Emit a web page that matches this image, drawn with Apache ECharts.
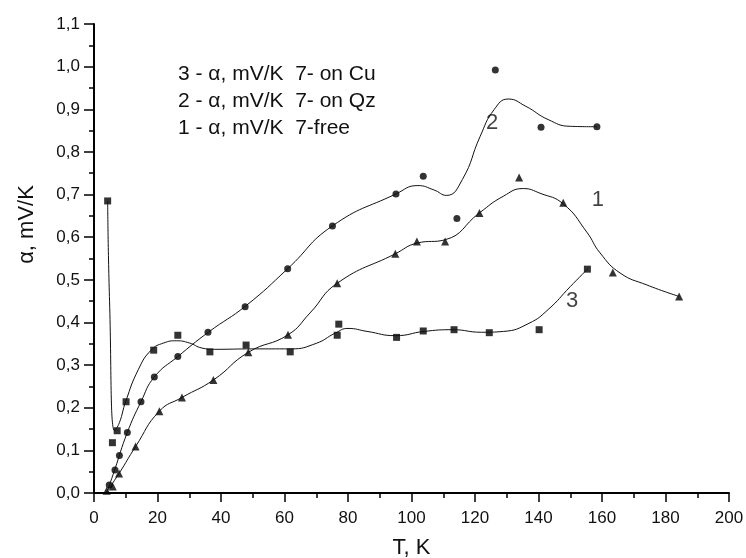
<!DOCTYPE html>
<html>
<head>
<meta charset="utf-8">
<script src="https://cdn.jsdelivr.net/npm/echarts@6/dist/echarts.min.js"></script>
<style>
  html, body { margin: 0; padding: 0; background: #fff; }
  #chart { width: 746px; height: 558px; }
</style>
</head>
<body>
<div id="chart"></div>
<script>
// measured points [T, alpha]
var freePts = [[4.0,0.005],[5.9,0.015],[7.9,0.046],[13.1,0.109],[20.6,0.192],[27.7,0.224],[37.6,0.265],[48.6,0.330],[61.1,0.371],[76.6,0.492],[94.9,0.561],[101.7,0.590],[110.6,0.590],[121.4,0.657],[133.9,0.740],[147.8,0.681],[163.4,0.517],[184.3,0.461]];
var qzPts = [[4.8,0.019],[6.6,0.054],[8.0,0.088],[10.5,0.142],[14.8,0.214],[19.0,0.272],[26.4,0.320],[35.9,0.377],[47.6,0.437],[61.0,0.526],[75.1,0.626],[95.1,0.701],[103.7,0.743],[114.3,0.644],[126.4,0.992],[140.8,0.858],[158.4,0.859]];
var cuPts = [[4.3,0.685],[5.8,0.118],[7.3,0.146],[10.1,0.214],[18.8,0.335],[26.4,0.370],[36.5,0.331],[47.9,0.347],[61.8,0.331],[76.6,0.370],[77.1,0.396],[95.3,0.365],[103.7,0.380],[113.4,0.383],[124.5,0.376],[140.2,0.383],[155.4,0.525]];

// fitted curves
var freeFit = [[3.7,0],[7.9,0.046],[13.1,0.109],[20.6,0.192],[27.7,0.224],[37.6,0.265],[48.6,0.330],[61.1,0.371],[68,0.422],[76.6,0.492],[94.9,0.561],[101.7,0.586],[110.6,0.594],[121.4,0.657],[128.9,0.696],[135.2,0.714],[140.5,0.703],[147.8,0.678],[155.2,0.612],[159.4,0.563],[165.7,0.516],[174.1,0.488],[184.3,0.461]];
var qzFit = [[4.0,0],[6.5,0.054],[10.5,0.142],[14.8,0.214],[19,0.272],[26.4,0.32],[36,0.377],[48,0.44],[61,0.526],[75,0.626],[95,0.701],[102,0.721],[107,0.711],[111,0.698],[116,0.735],[121.6,0.836],[126,0.899],[130.5,0.924],[136,0.907],[143,0.876],[150,0.860],[158.4,0.859]];
var cuFit = [[4.3,0.685],[4.9,0.45],[6.5,0.146],[8,0.165],[10,0.215],[14,0.29],[18,0.335],[22,0.352],[26,0.357],[30,0.352],[34,0.340],[38,0.337],[50,0.338],[62,0.338],[70,0.351],[76,0.375],[80,0.386],[86,0.379],[95,0.369],[104,0.379],[113,0.383],[122,0.377],[129,0.379],[137,0.398],[143,0.43],[150,0.484],[155.4,0.525]];

var legendLines = ['3 - \u03b1, mV/K  7- on Cu', '2 - \u03b1, mV/K  7- on Qz', '1 - \u03b1, mV/K  7-free'];
var curveTags = [['1', 158.7, 0.688], ['2', 125.4, 0.869], ['3', 150.6, 0.451]];

var font = 'Liberation Sans, Arial, sans-serif';
var chart = echarts.init(document.getElementById('chart'));

function fitLine(data) {
    return {
        type: 'line', data: data, smooth: 0.5, symbol: 'none', silent: true,
        lineStyle: { color: '#111', width: 1 }
    };
}
function dots(data, shape, size) {
    return { type: 'scatter', data: data, symbol: shape, symbolSize: size, itemStyle: { color: '#000' } };
}

var option = {
    backgroundColor: '#fff',
    animation: false,
    grid: { left: 94, top: 24, right: 17, bottom: 65, outerBoundsMode: 'none' },
    xAxis: {
        type: 'value', min: 0, max: 200, interval: 20,
        name: 'T, K', nameLocation: 'middle', nameGap: 44,
        nameTextStyle: { fontSize: 22, color: '#111', fontFamily: font },
        axisLine: { lineStyle: { color: '#000', width: 2 } },
        axisTick: { length: 9, lineStyle: { color: '#000', width: 1.5 } },
        minorTick: { show: true, splitNumber: 2, length: 5, lineStyle: { color: '#000', width: 1.5 } },
        axisLabel: { fontSize: 17, color: '#111', margin: 17, fontFamily: font },
        splitLine: { show: false }
    },
    yAxis: {
        type: 'value', min: 0, max: 1.1, interval: 0.1,
        name: '\u03b1, mV/K', nameLocation: 'middle', nameGap: 56,
        nameTextStyle: { fontSize: 22, color: '#111', fontFamily: font, padding: [0, 0, 0, 68] },
        axisLine: { lineStyle: { color: '#000', width: 2 } },
        axisTick: { length: 10, lineStyle: { color: '#000', width: 1.5 } },
        minorTick: { show: true, splitNumber: 2, length: 5, lineStyle: { color: '#000', width: 1.5 } },
        axisLabel: {
            fontSize: 17, color: '#111', margin: 14, fontFamily: font,
            formatter: function (v) { return v.toFixed(1).replace('.', ','); }
        },
        splitLine: { show: false }
    },
    graphic: legendLines.map(function (t, i) {
        return {
            type: 'text', left: 178, top: 64 + i * 27,
            style: { text: t, fontSize: 21, fill: '#111', fontFamily: font }
        };
    }),
    series: [
        fitLine(freeFit),
        fitLine(qzFit),
        fitLine(cuFit),
        dots(freePts, 'triangle', 8),
        dots(qzPts, 'circle', 7),
        dots(cuPts, 'rect', 7),
        {
            type: 'scatter', silent: true, symbol: 'circle', symbolSize: 2,
            itemStyle: { color: 'rgba(0,0,0,0)' },
            data: curveTags.map(function (t) { return { name: t[0], value: [t[1], t[2]] }; }),
            label: {
                show: true, position: 'inside', formatter: '{b}',
                color: '#111', fontSize: 22, fontFamily: font
            }
        }
    ]
};
chart.setOption(option);
window.addEventListener('resize', chart.resize);
</script>
</body>
</html>
